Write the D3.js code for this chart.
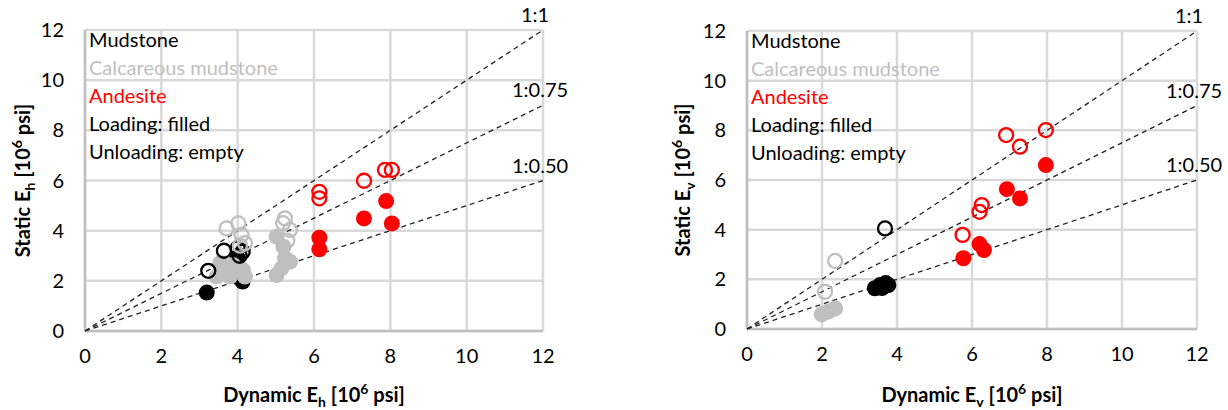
<!DOCTYPE html>
<html>
<head>
<meta charset="utf-8">
<script src="https://cdn.jsdelivr.net/npm/d3@7"></script>
<style>
  body { margin: 0; background: #fff; }
  text { font-family: Lato, "Open Sans", sans-serif; }
</style>
</head>
<body>
<div id="chart"></div>
<script>
// tick values shared by both panels
var ticks = [0, 2, 4, 6, 8, 10, 12];
var refRatios = [1, 0.75, 0.5];
var refLabels = ["1:1", "1:0.75", "1:0.50"];
var legendLines = ["Mudstone", "Calcareous mudstone", "Andesite", "Loading: filled", "Unloading: empty"];
var legendColors = ["#000", "#bfbfbf", "#ff0000", "#000", "#000"];

// horizontal modulus panel
var mudLoadH = [[3.19, 1.53], [4.0, 2.9], [4.13, 1.97], [4.05, 2.1]];
var calcLoadH = [[3.45, 2.17], [3.54, 2.7], [3.7, 2.5], [3.88, 2.63], [4.14, 2.43], [3.8, 2.17], [4.19, 2.17], [3.6, 2.3],
                 [5.02, 3.76], [5.2, 3.36], [5.24, 2.9], [5.37, 2.76], [5.15, 2.5], [5.02, 2.23]];
var mudUnloadH = [[3.23, 2.4], [3.64, 3.2], [4.13, 3.16], [4.0, 3.3], [4.05, 3.0]];
var calcUnloadH = [[4.02, 4.29], [3.71, 4.09], [4.1, 3.83], [4.19, 3.5], [4.06, 3.4],
                   [5.24, 4.49], [5.19, 4.3], [5.37, 4.03], [5.3, 3.6]];
var andLoadH = [[7.89, 5.18], [7.31, 4.49], [8.04, 4.29], [6.14, 3.72], [6.14, 3.26]];
var andUnloadH = [[6.14, 5.55], [6.14, 5.29], [7.31, 5.99], [7.86, 6.42], [8.04, 6.42]];

// vertical modulus panel
var mudLoadV = [[3.41, 1.64], [3.55, 1.77], [3.77, 1.77], [3.6, 1.65], [3.7, 1.85]];
var calcLoadV = [[1.99, 0.59], [2.17, 0.7], [2.35, 0.83]];
var mudUnloadV = [[3.68, 4.05]];
var calcUnloadV = [[2.35, 2.74], [2.08, 1.5]];
var andLoadV = [[7.97, 6.6], [6.93, 5.63], [7.28, 5.26], [6.2, 3.42], [6.32, 3.18], [5.77, 2.85]];
var andUnloadV = [[6.91, 7.81], [7.28, 7.34], [7.97, 8.01], [6.26, 4.99], [6.2, 4.72], [5.75, 3.79]];

var svg = d3.select("#chart").append("svg")
    .attr("width", 1228)
    .attr("height", 410);

function panel(opt) {
    var x = d3.scaleLinear().domain([0, 12]).range([opt.left, opt.right]);
    var y = d3.scaleLinear().domain([0, 12]).range([opt.bottom, opt.top]);
    var g = svg.append("g");

    // grid
    g.selectAll("line.gx").data(ticks).enter().append("line")
        .attr("x1", function(d) { return x(d); })
        .attr("x2", function(d) { return x(d); })
        .attr("y1", y(0)).attr("y2", y(12))
        .attr("stroke", "#d9d9d9").attr("stroke-width", 2.5);
    g.selectAll("line.gy").data(ticks).enter().append("line")
        .attr("y1", function(d) { return y(d); })
        .attr("y2", function(d) { return y(d); })
        .attr("x1", x(0)).attr("x2", x(12))
        .attr("stroke", "#d9d9d9").attr("stroke-width", 2.5);
    // axis lines
    g.append("line").attr("x1", x(0)).attr("x2", x(12)).attr("y1", y(0)).attr("y2", y(0))
        .attr("stroke", "#bfbfbf").attr("stroke-width", 2.5);
    g.append("line").attr("x1", x(0)).attr("x2", x(0)).attr("y1", y(0)).attr("y2", y(12))
        .attr("stroke", "#bfbfbf").attr("stroke-width", 2.5);

    // tick labels
    g.selectAll("text.tx").data(ticks).enter().append("text")
        .attr("x", function(d) { return x(d); })
        .attr("y", opt.bottom + 32)
        .attr("text-anchor", "middle")
        .attr("font-size", 20)
        .text(function(d) { return d; });
    g.selectAll("text.ty").data(ticks).enter().append("text")
        .attr("x", opt.left - 21)
        .attr("y", function(d) { return y(d) + 7; })
        .attr("text-anchor", "end")
        .attr("font-size", 20)
        .text(function(d) { return d; });

    // legend text
    g.selectAll("text.leg").data(legendLines).enter().append("text")
        .attr("x", opt.left + 4)
        .attr("y", function(d, i) { return opt.top + 17 + i * 28; })
        .attr("font-size", 20)
        .attr("fill", function(d, i) { return legendColors[i]; })
        .text(function(d) { return d; });

    // reference lines
    g.selectAll("line.ref").data(refRatios).enter().append("line")
        .attr("x1", x(0)).attr("y1", y(0))
        .attr("x2", x(12)).attr("y2", function(d) { return y(12 * d); })
        .attr("stroke", "#222").attr("stroke-width", 1.3)
        .attr("stroke-dasharray", "5,4");
    g.selectAll("text.ref").data(refRatios).enter().append("text")
        .attr("x", function(d, i) { return i === 0 ? x(12) - 22 : x(12) - 31; })
        .attr("y", function(d) { return y(12 * d) - 8; })
        .attr("font-size", 20)
        .text(function(d, i) { return refLabels[i]; });

    // points
    var series = [
        [opt.mudLoad, "#000", true],
        [opt.calcLoad, "#bfbfbf", true],
        [opt.mudUnload, "#000", false],
        [opt.calcUnload, "#bfbfbf", false],
        [opt.andLoad, "#ff0000", true],
        [opt.andUnload, "#ff0000", false]
    ];
    series.forEach(function(s) {
        g.selectAll(null).data(s[0]).enter().append("circle")
            .attr("cx", function(d) { return x(d[0]); })
            .attr("cy", function(d) { return y(d[1]); })
            .attr("r", s[2] ? 8 : 7)
            .attr("fill", s[2] ? s[1] : "none")
            .attr("stroke", s[1])
            .attr("stroke-width", s[2] ? 0 : 2.3);
    });

    // axis titles
    var xt = g.append("text")
        .attr("x", (opt.left + opt.right) / 2)
        .attr("y", 402)
        .attr("text-anchor", "middle")
        .attr("font-size", 20)
        .attr("font-weight", "bold");
    xt.append("tspan").text("Dynamic E");
    xt.append("tspan").attr("font-size", 14).attr("dy", 5).text(opt.sub);
    xt.append("tspan").attr("dy", -5).text(" [10");
    xt.append("tspan").attr("font-size", 14).attr("dy", -8).text("6");
    xt.append("tspan").attr("dy", 8).text(" psi]");

    var yt = g.append("text")
        .attr("transform", "translate(" + opt.ytx + "," + ((opt.top + opt.bottom) / 2) + ") rotate(-90)")
        .attr("text-anchor", "middle")
        .attr("font-size", 20)
        .attr("font-weight", "bold");
    yt.append("tspan").text("Static E");
    yt.append("tspan").attr("font-size", 14).attr("dy", 5).text(opt.sub);
    yt.append("tspan").attr("dy", -5).text(" [10");
    yt.append("tspan").attr("font-size", 14).attr("dy", -8).text("6");
    yt.append("tspan").attr("dy", 8).text(" psi]");
}

panel({
    left: 85, right: 543, top: 30, bottom: 331, ytx: 30, sub: "h",
    mudLoad: mudLoadH, calcLoad: calcLoadH, mudUnload: mudUnloadH,
    calcUnload: calcUnloadH, andLoad: andLoadH, andUnload: andUnloadH
});
panel({
    left: 747, right: 1197, top: 31, bottom: 329, ytx: 690, sub: "v",
    mudLoad: mudLoadV, calcLoad: calcLoadV, mudUnload: mudUnloadV,
    calcUnload: calcUnloadV, andLoad: andLoadV, andUnload: andUnloadV
});
</script>
</body>
</html>
